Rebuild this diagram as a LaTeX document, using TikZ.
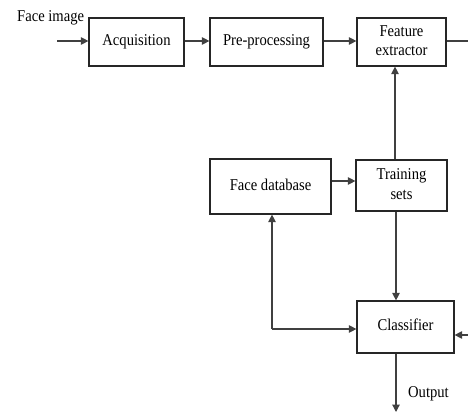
\documentclass[tikz,border=0pt]{standalone}
\usepackage{fontspec}
\usepackage{graphicx}
\setmainfont{Liberation Serif}
\usetikzlibrary{arrows.meta}
% labels are set slightly tall and narrow, recentred after the stretch
\newcommand{\lbl}[1]{\raisebox{-1.5pt}{\scalebox{1}[1.13]{\begin{tabular}{@{}c@{}}#1\end{tabular}}}}
\begin{document}
\begin{tikzpicture}[x=1pt,y=-1pt,
  font=\fontsize{14.6}{17.5}\selectfont,
  block/.style={draw=black!85, line width=1.2pt, inner sep=0pt, align=center},
  conn/.style={draw=black!75, line width=1.2pt, -{Triangle[length=7.5pt,width=7.5pt]}},
  plain/.style={draw=black!75, line width=1.2pt}]
\useasboundingbox (0,0) rectangle (468,414);
% top row
\node[block, minimum width=95pt, minimum height=48pt] (acq) at (136.5,42) {\lbl{Acquisition}};
\node[block, minimum width=113pt, minimum height=48pt] (pre) at (266.5,42) {\lbl{Pre-processing}};
\node[block, minimum width=89pt, minimum height=48pt] (feat) at (401.5,42) {\lbl{Feature\\extractor}};
% middle row
\node[block, minimum width=121pt, minimum height=55pt] (db) at (270.5,186.5) {\lbl{Face database}};
\node[block, minimum width=91pt, minimum height=51pt] (train) at (401.5,185.5) {\lbl{Training\\sets}};
% classifier
\node[block, minimum width=97pt, minimum height=52pt] (cls) at (405.5,327) {\lbl{Classifier}};
% labels and free ends
\node[anchor=west, inner sep=0pt] (fimg) at (17,18) {\lbl{Face image}};
\node[anchor=west, inner sep=0pt] (out) at (408,394) {\lbl{Output}};
\coordinate (in) at (57,41);
\coordinate (featout) at (468,41);
\coordinate (clsin) at (468,335);
\coordinate (outend) at (396,412);
\coordinate (corner) at (272,329);
% connectors
\draw[conn] (in) -- (acq.west |- in);
\draw[conn] (acq.east |- in) -- (pre.west |- in);
\draw[conn] (pre.east |- in) -- (feat.west |- in);
\draw[plain] (feat.east |- featout) -- (featout);
\draw[conn] (db.east |- 0,181) -- (train.west |- 0,181);
\draw[conn] (train.north -| 395,0) -- (feat.south -| 395,0);
\draw[conn] (train.south -| 396,0) -- (cls.north -| 396,0);
\draw[conn] (corner) -- (cls.west |- corner);
\draw[conn] (corner) -- (db.south -| corner);
\draw[conn] (clsin) -- (cls.east |- clsin);
\draw[conn] (cls.south -| outend) -- (outend);
\end{tikzpicture}
\end{document}
